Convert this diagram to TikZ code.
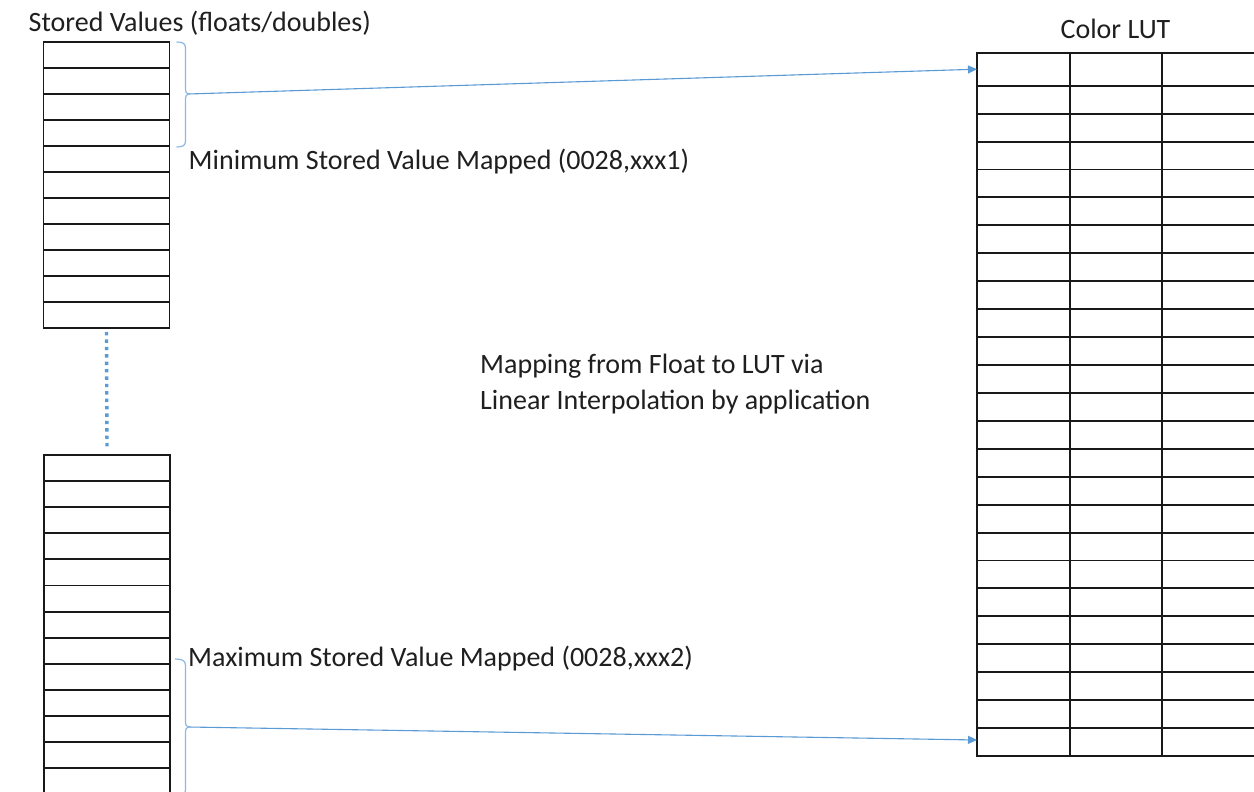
\documentclass[tikz,border=0pt]{standalone}
\usepackage{fontspec}
\setmainfont{Carlito}
\usetikzlibrary{arrows.meta}
\definecolor{gridline}{RGB}{25,25,25}
\definecolor{accent}{RGB}{91,155,213}
\definecolor{bracecol}{RGB}{140,185,228}

\begin{document}
\begin{tikzpicture}[x=1pt,y=-1pt,
  cell/.style={draw=gridline, line width=1.9pt},
  column/.style={cell, inner sep=0pt, outer sep=0pt, anchor=north west},
  brace/.style={draw=bracecol, line width=1.2pt},
  link/.style={draw=accent, line width=1.1pt, -{Triangle[length=9pt,width=8pt]}},
  dots/.style={draw=accent, line width=3.4pt, dash pattern=on 3.4pt off 4pt},
  label/.style={font=\fontsize{28}{36}\selectfont, inner sep=0pt, anchor=base west, text=black!88}
]
\clip (0,0) rectangle (1254,792);
\fill[white] (0,0) rectangle (1254,792);

% upper block of stored values
\node[column, minimum width=126pt, minimum height=286pt] (upper) at (43.5,42) {};
\foreach \i in {1,...,10}
  \draw[cell] (43.5,{42+26*\i}) -- (169.5,{42+26*\i});

% lower block of stored values (continues past the bottom edge)
\node[column, minimum width=126pt, minimum height=365.4pt] (lower) at (44,455) {};
\foreach \i in {1,...,13}
  \draw[cell] (44,{455+26.1*\i}) -- (170,{455+26.1*\i});

% elided rows between the two blocks
\draw[dots] ([yshift=-4pt]upper.south) -- ([yshift=5pt]lower.north);

% colour lookup table
\node[column, minimum width=281pt, minimum height=703.3pt] (lut) at (977,52.7) {};
\draw[cell] (1070,52.7) -- (1070,756);
\draw[cell] (1162.3,52.7) -- (1162.3,756);
\foreach \i in {0,...,23}
  \draw[cell] (977,{85.7+27.93*\i}) -- (1258,{85.7+27.93*\i});

% brace marking the minimum stored value
\draw[brace] (176.5,42) .. controls (182,42) and (185.5,43) .. (185.5,48)
  -- (185.5,88) .. controls (185.5,92) and (186.5,94) .. (188.5,94)
  .. controls (186.5,94) and (185.5,96) .. (185.5,100)
  -- (185.5,141) .. controls (185.5,146) and (182,147) .. (176.5,147);
\coordinate (minTip) at (188.5,94);

% brace marking the maximum stored value
\draw[brace] (175,659) .. controls (181,659) and (185.5,660) .. (185.5,665)
  -- (185.5,721) .. controls (185.5,725) and (186.5,727) .. (188.5,727)
  .. controls (186.5,727) and (185.5,729) .. (185.5,733)
  -- (185.5,790) .. controls (185.5,795) and (181,796) .. (175,796);
\coordinate (maxTip) at (188.5,727);

% mapping arrows into the table
\coordinate (lutMin) at ([yshift=-16.5pt]lut.north west);
\coordinate (lutMax) at ([yshift=16pt]lut.south west);
\draw[link] (minTip) -- (lutMin);
\draw[link] (maxTip) -- (lutMax);

% labels
\node[label] (title) at (28.5,31.7) {Stored Values (floats/doubles)};
\node[label, anchor=base] (lutTitle) at (1115.5,38.3) {Color LUT};
\node[label] (minLabel) at (188.5,169.3) {Minimum Stored Value Mapped (0028,xxx1)};
\node[label] (maxLabel) at (188,666) {Maximum Stored Value Mapped (0028,xxx2)};
\node[label] (mapA) at (480,373.3) {Mapping from Float to LUT via};
\node[label] (mapB) at (480,409) {Linear Interpolation by application};
\end{tikzpicture}
\end{document}
